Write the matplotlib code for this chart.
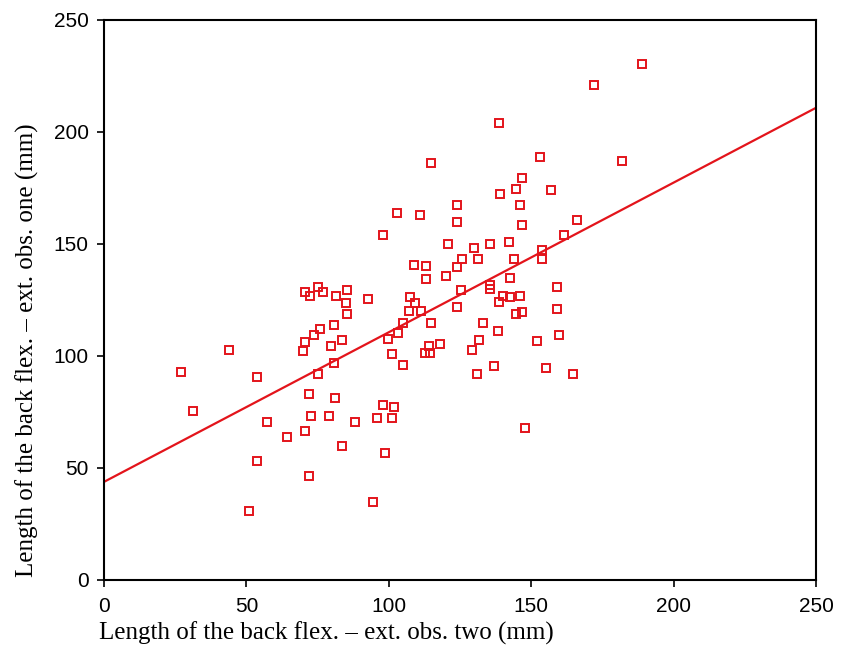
import matplotlib.pyplot as plt
import numpy as np

# observation two (x) vs observation one (y), mm
obs_two = [26.9, 31.4, 43.9, 53.6, 53.6, 51.0, 57.3, 64.2, 70.5, 71.9,
           71.9, 72.6, 79.0, 81.0, 83.6, 88.1, 94.6, 97.9, 101.8, 95.9,
           101.1, 98.6, 70.6, 72.5, 75.1, 77.0, 81.6, 85.4, 85.0, 85.4,
           92.6, 75.7, 73.7, 70.5, 69.9, 80.9, 79.6, 83.6, 80.9, 75.1,
           99.7, 101.1, 103.3, 105.0, 104.9, 107.5, 109.1, 107.0, 111.4, 109.0,
           112.9, 112.9, 120.1, 123.9, 125.2, 123.8, 114.7, 114.1, 118.0, 112.7,
           114.5, 125.8, 131.2, 120.7, 129.8, 135.5, 142.1, 144.0, 153.9, 153.9,
           135.5, 135.5, 142.7, 140.2, 142.7, 146.1, 138.7, 144.7, 146.9, 133.0,
           138.2, 131.7, 129.1, 131.0, 136.8, 151.9, 159.8, 159.1, 159.1, 155.2,
           164.8, 147.9, 189.0, 172.1, 138.7, 114.8, 153.2, 181.9, 146.7, 144.7,
           157.1, 138.9, 123.9, 146.1, 103.0, 111.0, 123.9, 146.6, 166.1, 97.9,
           161.6]
obs_one = [92.7, 75.4, 102.8, 90.5, 53.3, 30.9, 70.4, 64.0, 66.4, 46.4,
           82.9, 73.1, 73.1, 81.3, 59.8, 70.5, 35.0, 78.0, 77.1, 72.2,
           72.2, 56.6, 128.6, 126.8, 131.0, 128.6, 127.0, 129.4, 123.5, 118.6,
           125.4, 111.9, 109.4, 106.1, 102.1, 113.7, 104.5, 107.1, 96.9, 92.0,
           107.7, 101.0, 110.4, 114.6, 96.1, 126.2, 123.5, 120.2, 120.2, 140.8,
           140.0, 134.2, 135.8, 139.9, 129.5, 121.7, 114.6, 104.5, 105.4, 101.2,
           101.2, 143.3, 143.3, 149.9, 148.3, 150.1, 150.7, 143.3, 147.5, 143.3,
           131.5, 129.8, 135.0, 126.9, 126.3, 126.9, 124.2, 118.6, 119.5, 114.6,
           111.2, 107.1, 102.8, 92.0, 95.4, 106.9, 109.4, 121.0, 130.9, 94.5,
           92.0, 68.0, 230.2, 221.1, 203.8, 186.3, 188.8, 187.2, 179.6, 174.7,
           174.0, 172.3, 167.3, 167.3, 164.0, 163.1, 159.7, 158.3, 160.7, 154.0,
           154.1]

# fitted line
fit_intercept = 43.8
fit_slope = 0.668

x_ticks = [0, 50, 100, 150, 200, 250]
y_ticks = [0, 50, 100, 150, 200, 250]

red = '#e3141b'

fig = plt.figure(figsize=(8.47, 6.45), dpi=100)
ax = fig.add_axes([0.1228, 0.1008, 0.8406, 0.8682])

ax.plot(obs_two, obs_one, linestyle='none', marker='s', markersize=6,
        markerfacecolor='none', markeredgecolor=red, markeredgewidth=1.4)

fit_x = np.array([0, 250])
ax.plot(fit_x, fit_intercept + fit_slope * fit_x, color=red, lw=1.6)

ax.set_xlim(0, 250)
ax.set_ylim(0, 250)
ax.set_xticks(x_ticks)
ax.set_yticks(y_ticks)
for s in ax.spines.values():
    s.set_linewidth(1.5)
ax.tick_params(direction='out', length=5, width=1.2, labelsize=15)
ax.tick_params(axis='x', pad=7)
ax.tick_params(axis='y', pad=6)
for lab in ax.get_xticklabels() + ax.get_yticklabels():
    lab.set_fontfamily('Liberation Sans')

ax.set_xlabel("Length of the back flex. \u2013 ext. obs. two (mm)",
              family='Liberation Serif', fontsize=18)
ax.set_ylabel("Length of the back flex. \u2013 ext. obs. one (mm)",
              family='Liberation Serif', fontsize=18)
ax.xaxis.set_label_coords(0.313, -0.075)
ax.yaxis.set_label_coords(-0.092, 0.41)

fig.savefig('out.png', dpi=100)
